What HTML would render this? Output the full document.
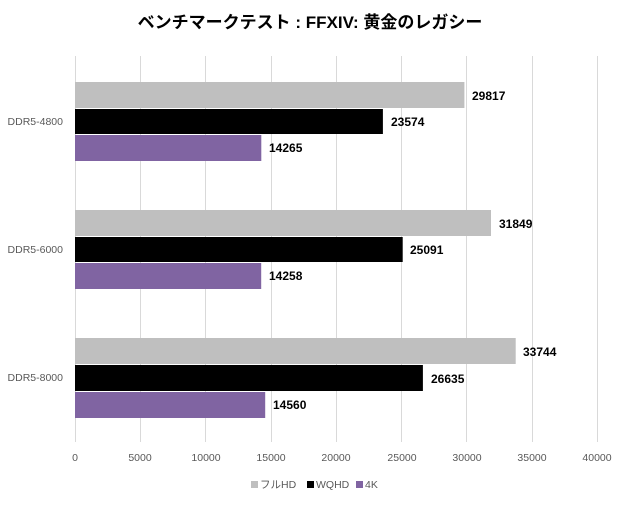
<!DOCTYPE html>
<html><head><meta charset="utf-8"><style>
body{margin:0;background:#fff;}
svg text{font-family:"Liberation Sans","Noto Sans CJK JP",sans-serif;}
</style></head><body>
<svg width="620" height="500" viewBox="0 0 620 500" xmlns="http://www.w3.org/2000/svg">
<rect width="620" height="500" fill="#fff"/>
<text x="310" y="28" text-anchor="middle" font-size="17" font-weight="bold" fill="#000">ベンチマークテスト : FFXIV: 黄金のレガシー</text>
<g stroke="#d9d9d9" stroke-width="1">
<line x1="75.5" y1="56" x2="75.5" y2="442"/>
<line x1="140.5" y1="56" x2="140.5" y2="442"/>
<line x1="205.5" y1="56" x2="205.5" y2="442"/>
<line x1="271.5" y1="56" x2="271.5" y2="442"/>
<line x1="336.5" y1="56" x2="336.5" y2="442"/>
<line x1="401.5" y1="56" x2="401.5" y2="442"/>
<line x1="466.5" y1="56" x2="466.5" y2="442"/>
<line x1="532.5" y1="56" x2="532.5" y2="442"/>
<line x1="597.5" y1="56" x2="597.5" y2="442"/>
</g>
<g>
<rect x="75" y="82" width="389.4" height="26" fill="#bfbfbf"/>
<rect x="75" y="109" width="307.9" height="25" fill="#000"/>
<rect x="75" y="135" width="186.3" height="26" fill="#8064a2"/>
<rect x="75" y="210" width="416" height="26" fill="#bfbfbf"/>
<rect x="75" y="237" width="327.7" height="25" fill="#000"/>
<rect x="75" y="263" width="186.2" height="26" fill="#8064a2"/>
<rect x="75" y="338" width="440.7" height="26" fill="#bfbfbf"/>
<rect x="75" y="365" width="347.9" height="26" fill="#000"/>
<rect x="75" y="392" width="190.2" height="26" fill="#8064a2"/>
</g>
<g font-size="12" font-weight="bold" fill="#000">
<text x="472" y="100">29817</text>
<text x="391" y="126">23574</text>
<text x="269" y="152">14265</text>
<text x="499" y="228">31849</text>
<text x="410" y="254">25091</text>
<text x="269" y="280">14258</text>
<text x="523" y="356">33744</text>
<text x="431" y="383">26635</text>
<text x="273" y="409">14560</text>
</g>
<g font-size="10.5" fill="#595959" text-anchor="end">
<text x="63" y="125">DDR5-4800</text>
<text x="63" y="253">DDR5-6000</text>
<text x="63" y="381">DDR5-8000</text>
</g>
<g font-size="10.5" fill="#595959" text-anchor="middle">
<text x="75" y="461">0</text>
<text x="140" y="461">5000</text>
<text x="206" y="461">10000</text>
<text x="271" y="461">15000</text>
<text x="336" y="461">20000</text>
<text x="402" y="461">25000</text>
<text x="467" y="461">30000</text>
<text x="532" y="461">35000</text>
<text x="597" y="461">40000</text>
</g>
<g font-size="10.5" fill="#595959">
<rect x="251" y="481" width="7" height="7" fill="#bfbfbf"/>
<text x="260" y="488">フルHD</text>
<rect x="307" y="481" width="7" height="7" fill="#000"/>
<text x="316" y="488">WQHD</text>
<rect x="356" y="481" width="7" height="7" fill="#8064a2"/>
<text x="365" y="488">4K</text>
</g>
</svg>
</body></html>
